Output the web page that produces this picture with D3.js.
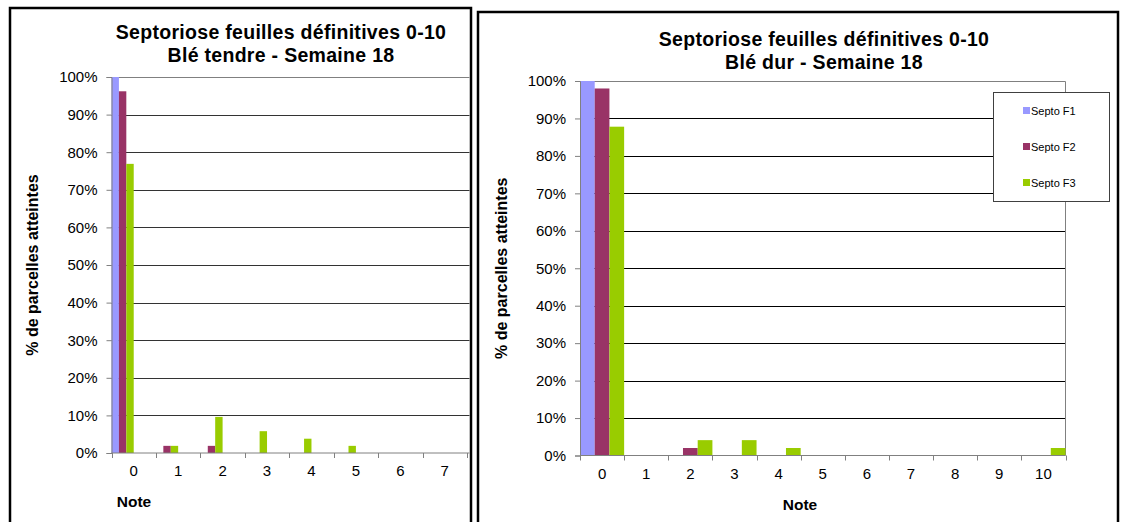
<!DOCTYPE html>
<html>
<head>
<meta charset="utf-8">
<script src="https://cdn.jsdelivr.net/npm/d3@7"></script>
<style>
  html, body { margin: 0; padding: 0; background: #fff; }
  svg { display: block; font-family: "Liberation Sans", Arial, sans-serif; }
</style>
</head>
<body>
<svg id="chart" width="1121" height="522"></svg>
<script>
const seriesNames = ["Septo F1", "Septo F2", "Septo F3"];
const seriesColors = ["#9999FF", "#993366", "#99CC00"];
const yTicks = [0, 10, 20, 30, 40, 50, 60, 70, 80, 90, 100];

// Blé tendre (seules les notes 0 à 7 sont visibles)
const notesTendre = ["0", "1", "2", "3", "4", "5", "6", "7"];
const tendreF1 = [100, 0, 0, 0, 0, 0, 0, 0];
const tendreF2 = [96.2, 1.9, 1.9, 0, 0, 0, 0, 0];
const tendreF3 = [76.9, 1.9, 9.6, 5.8, 3.8, 1.9, 0, 0];

// Blé dur
const notesDur = ["0", "1", "2", "3", "4", "5", "6", "7", "8", "9", "10"];
const durF1 = [100, 0, 0, 0, 0, 0, 0, 0, 0, 0, 0];
const durF2 = [98, 0, 2, 0, 0, 0, 0, 0, 0, 0, 0];
const durF3 = [87.8, 0, 4.1, 4.1, 2, 0, 0, 0, 0, 0, 2];

const svg = d3.select("#chart");

/**
 * Un panneau : cadre, titre, axes, grille et barres groupées
 */
function drawPanel(cfg) {
    const g = svg.append("g");

    // cadre noir du panneau (coupé en bas par la capture)
    g.append("rect")
        .attr("x", cfg.frame[0]).attr("y", cfg.frame[1])
        .attr("width", cfg.frame[2]).attr("height", cfg.frame[3])
        .attr("fill", "#fff").attr("stroke", "#000").attr("stroke-width", 2.5);

    // titre sur deux lignes
    cfg.title.forEach((t, i) => {
        g.append("text")
            .attr("x", cfg.titleX).attr("y", cfg.titleY + i * 22.5)
            .attr("text-anchor", "middle")
            .attr("font-size", 19.5).attr("font-weight", "bold")
            .attr("letter-spacing", 0.3)
            .text(t);
    });

    const x = d3.scaleBand().domain(cfg.notes).range([cfg.left, cfg.right]);
    const y = d3.scaleLinear().domain([0, 100]).range([cfg.bottom, cfg.top]);
    const inner = d3.scaleBand().domain(seriesNames)
        .range([0, x.bandwidth() * cfg.groupFrac]);
    // le graphique blé tendre déborde du cadre : lignes prolongées jusqu'au bord
    const lineEnd = cfg.openRight ? cfg.frame[0] + cfg.frame[2] : cfg.right;

    const clip = "clip-" + cfg.id;
    g.append("clipPath").attr("id", clip).append("rect")
        .attr("x", cfg.frame[0]).attr("y", cfg.frame[1])
        .attr("width", cfg.frame[2] - 1.5).attr("height", cfg.frame[3]);
    const plot = g.append("g").attr("clip-path", `url(#${clip})`);

    // grille horizontale
    plot.append("g").selectAll("line").data(yTicks.filter(d => d > 0 && d < 100)).join("line")
        .attr("x1", cfg.left).attr("x2", lineEnd)
        .attr("y1", d => Math.round(y(d)) + 0.5).attr("y2", d => Math.round(y(d)) + 0.5)
        .attr("stroke", cfg.gridColor).attr("stroke-width", 1);

    // bord du graphique (haut et droite)
    plot.append("path")
        .attr("d", cfg.openRight
            ? `M${cfg.left},${Math.round(y(100)) + 0.5}H${lineEnd}`
            : `M${cfg.left},${Math.round(y(100)) + 0.5}H${cfg.right}V${cfg.bottom}`)
        .attr("fill", "none").attr("stroke", "#808080").attr("stroke-width", 1);

    // barres
    const series = [cfg.f1, cfg.f2, cfg.f3];
    series.forEach((vals, si) => {
        plot.append("g").selectAll("rect").data(vals).join("rect")
            .attr("x", (d, i) => x(cfg.notes[i]) + inner(seriesNames[si]))
            .attr("width", inner.bandwidth())
            .attr("y", d => y(d))
            .attr("height", d => y(0) - y(d))
            .attr("fill", seriesColors[si]);
    });

    // axe des ordonnées
    const yAxis = g.append("g")
        .attr("transform", `translate(${cfg.left},0)`)
        .call(d3.axisLeft(y).tickValues(yTicks).tickFormat(d => d + "%").tickSize(5).tickPadding(9));
    yAxis.select(".domain").attr("stroke", "#808080");
    yAxis.selectAll(".tick line").attr("stroke", "#808080");
    yAxis.selectAll("text").attr("font-size", 15).attr("font-family", "Liberation Sans, Arial, sans-serif").attr("fill", "#000");

    // axe des abscisses : graduations aux limites des catégories
    const xAxis = plot.append("g").attr("transform", `translate(0,${cfg.bottom})`);
    xAxis.append("line")
        .attr("x1", cfg.left).attr("x2", lineEnd)
        .attr("stroke", "#808080");
    xAxis.selectAll(".tk").data(cfg.notes.concat(["end"])).join("line")
        .attr("class", "tk")
        .attr("x1", (d, i) => Math.round(cfg.left + i * x.step()) + 0.5)
        .attr("x2", (d, i) => Math.round(cfg.left + i * x.step()) + 0.5)
        .attr("y1", 0).attr("y2", 5)
        .attr("stroke", "#808080");
    xAxis.selectAll("text").data(cfg.notes).join("text")
        .attr("x", d => x(d) + x.bandwidth() / 2)
        .attr("y", 23)
        .attr("text-anchor", "middle")
        .attr("font-size", 15)
        .text(d => d);

    // titres des axes
    g.append("text")
        .attr("transform", `translate(${cfg.yTitleX},${(cfg.top + cfg.bottom) / 2}) rotate(-90)`)
        .attr("text-anchor", "middle")
        .attr("font-size", 16).attr("font-weight", "bold")
        .text("% de parcelles atteintes");
    g.append("text")
        .attr("x", cfg.xTitleX).attr("y", cfg.bottom + 54)
        .attr("text-anchor", "middle")
        .attr("font-size", 15.5).attr("font-weight", "bold")
        .text("Note");

    return { g, x, y };
}

drawPanel({
    id: "tendre",
    frame: [10, 8, 461, 530],
    title: ["Septoriose feuilles définitives 0-10", "Blé tendre - Semaine 18"],
    titleX: 281, titleY: 39,
    notes: notesTendre, f1: tendreF1, f2: tendreF2, f3: tendreF3,
    left: 111.5, right: 467, top: 77, bottom: 453,
    groupFrac: 0.5, openRight: true, gridColor: "#333",
    yTitleX: 38, xTitleX: 134
});

const dur = drawPanel({
    id: "dur",
    frame: [478, 12, 640, 530],
    title: ["Septoriose feuilles définitives 0-10", "Blé dur - Semaine 18"],
    titleX: 824, titleY: 46,
    notes: notesDur, f1: durF1, f2: durF2, f3: durF3,
    left: 580, right: 1065.5, top: 81, bottom: 455.5,
    groupFrac: 1, openRight: false, gridColor: "#000",
    yTitleX: 507, xTitleX: 800
});

// légende du graphique blé dur
const legend = dur.g.append("g");
legend.append("rect")
    .attr("x", 993.5).attr("y", 92.5).attr("width", 116).attr("height", 109)
    .attr("fill", "#fff").attr("stroke", "#404040").attr("stroke-width", 1);
seriesNames.forEach((name, i) => {
    const yy = 111 + i * 36;
    legend.append("rect")
        .attr("x", 1023).attr("y", yy - 4).attr("width", 7).attr("height", 7)
        .attr("fill", seriesColors[i]);
    legend.append("text")
        .attr("x", 1031).attr("y", yy + 4)
        .attr("font-size", 11)
        .text(name);
});
</script>
</body>
</html>
